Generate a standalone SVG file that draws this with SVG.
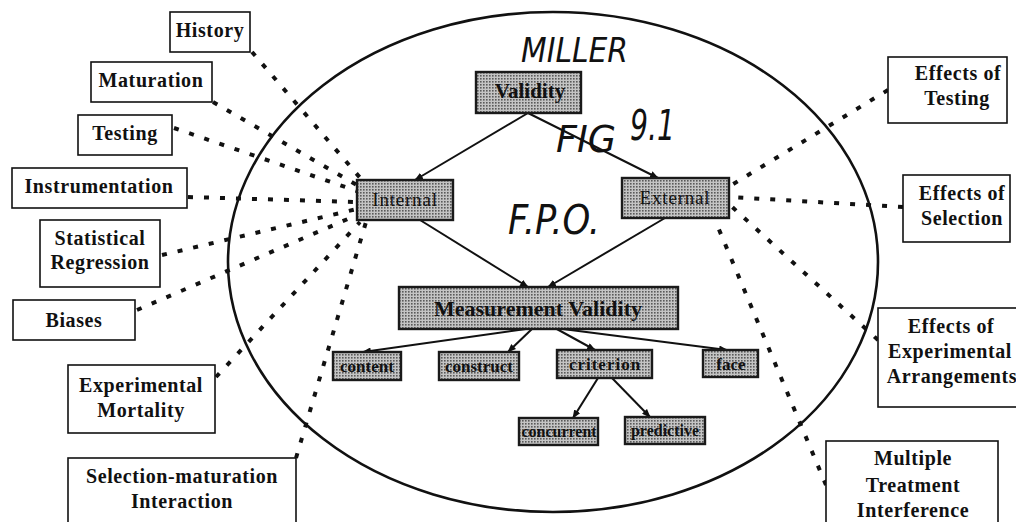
<svg xmlns="http://www.w3.org/2000/svg" width="1016" height="522" viewBox="0 0 1016 522">
<defs>
<pattern id="ht" width="3" height="3" patternUnits="userSpaceOnUse">
<rect width="3" height="3" fill="#c4c4c4"/>
<rect x="0" y="0" width="1.6" height="1.6" fill="#5a5a5a"/>
</pattern>
<marker id="ah" viewBox="0 0 10 8" refX="9" refY="4" markerWidth="9" markerHeight="7" markerUnits="userSpaceOnUse" orient="auto">
<path d="M0,0 L10,4 L0,8 z" fill="#111"/>
</marker>
</defs>
<style>
.ob{fill:#fff;stroke:#111;stroke-width:1.6}
.ib{fill:url(#ht);stroke:#1a1a1a;stroke-width:2.4}
.ot{font-family:"Liberation Serif",serif;font-weight:bold;font-size:20px;letter-spacing:0.6px;text-anchor:middle;fill:#111}
.it{font-family:"Liberation Serif",serif;font-weight:bold;text-anchor:middle;fill:#111}
.hw{font-family:"DejaVu Sans",sans-serif;fill:#111;font-style:italic}
.sl{stroke:#111;stroke-width:2;fill:none;marker-end:url(#ah)}
.dl{stroke:#111;stroke-width:4;fill:none;stroke-dasharray:5 11}
</style>
<rect width="1016" height="522" fill="#fff"/>
<ellipse cx="553" cy="262" rx="325" ry="250" fill="none" stroke="#111" stroke-width="2.6"/>

<g id="connectors">
<line class="sl" x1="528" y1="113" x2="415" y2="180"/>
<line class="sl" x1="528" y1="113" x2="658" y2="178"/>
<line class="sl" x1="420" y1="220" x2="528" y2="287"/>
<line class="sl" x1="665" y1="218" x2="548" y2="287"/>
<line class="sl" x1="533" y1="328" x2="363" y2="352"/>
<line class="sl" x1="533" y1="328" x2="508" y2="352"/>
<line class="sl" x1="555" y1="328" x2="595" y2="350"/>
<line class="sl" x1="555" y1="328" x2="727" y2="350"/>
<line class="sl" x1="598" y1="378" x2="573" y2="418"/>
<line class="sl" x1="612" y1="378" x2="650" y2="417"/>
<line class="dl" x1="252" y1="52" x2="362" y2="180"/>
<line class="dl" x1="213" y1="102" x2="357" y2="185"/>
<line class="dl" x1="174" y1="128" x2="357" y2="191"/>
<line class="dl" x1="188" y1="197" x2="357" y2="202"/>
<line class="dl" x1="162" y1="255" x2="357" y2="209"/>
<line class="dl" x1="137" y1="310" x2="357" y2="215"/>
<line class="dl" x1="216" y1="377" x2="360" y2="222"/>
<line class="dl" x1="296" y1="458" x2="366" y2="222"/>
<line class="dl" x1="888" y1="90" x2="730" y2="186"/>
<line class="dl" x1="903" y1="207" x2="730" y2="197"/>
<line class="dl" x1="878" y1="340" x2="730" y2="205"/>
<line class="dl" x1="826" y1="485" x2="715" y2="220"/>
</g>

<g id="history"><rect class="ob" x="170" y="12" width="80" height="40"/><text class="ot" x="210" y="37">History</text></g>
<g id="maturation"><rect class="ob" x="91" y="62" width="121" height="40"/><text class="ot" x="151" y="87">Maturation</text></g>
<g id="testing"><rect class="ob" x="78" y="115" width="94" height="40"/><text class="ot" x="125" y="140">Testing</text></g>
<g id="instrumentation"><rect class="ob" x="12" y="168" width="175" height="40"/><text class="ot" x="99" y="193">Instrumentation</text></g>
<g id="statistical-regression"><rect class="ob" x="40" y="220" width="120" height="67"/><text class="ot" x="100" y="245">Statistical</text><text class="ot" x="100" y="269">Regression</text></g>
<g id="biases"><rect class="ob" x="13" y="300" width="122" height="40"/><text class="ot" x="74" y="327">Biases</text></g>
<g id="experimental-mortality"><rect class="ob" x="68" y="365" width="147" height="68"/><text class="ot" x="141" y="392">Experimental</text><text class="ot" x="141" y="417">Mortality</text></g>
<g id="selection-maturation"><rect class="ob" x="68" y="458" width="228" height="70"/><text class="ot" x="182" y="483">Selection-maturation</text><text class="ot" x="182" y="508">Interaction</text></g>

<g id="effects-testing"><rect class="ob" x="888" y="57" width="119" height="66"/><text class="ot" x="958" y="80">Effects of</text><text class="ot" x="957" y="105">Testing</text></g>
<g id="effects-selection"><rect class="ob" x="903" y="175" width="107" height="67"/><text class="ot" x="962" y="200">Effects of</text><text class="ot" x="962" y="225">Selection</text></g>
<g id="effects-arrangements"><rect class="ob" x="878" y="308" width="145" height="99"/><text class="ot" x="951" y="333">Effects of</text><text class="ot" x="950" y="358">Experimental</text><text class="ot" x="952" y="383">Arrangements</text></g>
<g id="multiple-treatment"><rect class="ob" x="826" y="441" width="172" height="90"/><text class="ot" x="913" y="465">Multiple</text><text class="ot" x="913" y="492">Treatment</text><text class="ot" x="913" y="517">Interference</text></g>

<g id="validity"><rect class="ib" x="476" y="72" width="105" height="41"/><text class="it" x="530" y="98" font-size="21">Validity</text></g>
<g id="internal"><rect class="ib" x="357" y="180" width="96" height="40"/><text class="it" x="405" y="206" font-size="19" style="font-weight:normal;letter-spacing:0.8px">Internal</text></g>
<g id="external"><rect class="ib" x="622" y="178" width="107" height="40"/><text class="it" x="675" y="204" font-size="19" style="font-weight:normal;letter-spacing:0.8px">External</text></g>
<g id="measurement-validity"><rect class="ib" x="399" y="287" width="279" height="42"/><text class="it" x="538" y="316" font-size="22">Measurement Validity</text></g>
<g id="content"><rect class="ib" x="333" y="352" width="68" height="28"/><text class="it" x="367" y="372" font-size="17">content</text></g>
<g id="construct"><rect class="ib" x="439" y="352" width="80" height="28"/><text class="it" x="479" y="372" font-size="17">construct</text></g>
<g id="criterion"><rect class="ib" x="557" y="350" width="95" height="28"/><text class="it" x="605" y="370" font-size="17" style="letter-spacing:1px">criterion</text></g>
<g id="face"><rect class="ib" x="703" y="350" width="55" height="27"/><text class="it" x="731" y="370" font-size="17">face</text></g>
<g id="concurrent"><rect class="ib" x="519" y="418" width="79" height="27"/><text class="it" x="559" y="437" font-size="16">concurrent</text></g>
<g id="predictive"><rect class="ib" x="625" y="417" width="80" height="27"/><text class="it" x="665" y="436" font-size="16">predictive</text></g>

<g id="handwriting">
<text class="hw" x="521" y="62" font-size="34" textLength="107" lengthAdjust="spacingAndGlyphs">MILLER</text>
<text class="hw" x="556" y="152" font-size="38" textLength="60" lengthAdjust="spacingAndGlyphs">FIG</text>
<text class="hw" x="630" y="140" font-size="42" textLength="45" lengthAdjust="spacingAndGlyphs">9.1</text>
<text class="hw" x="508" y="234" font-size="40" textLength="92" lengthAdjust="spacingAndGlyphs">F.P.O.</text>
</g>
</svg>
